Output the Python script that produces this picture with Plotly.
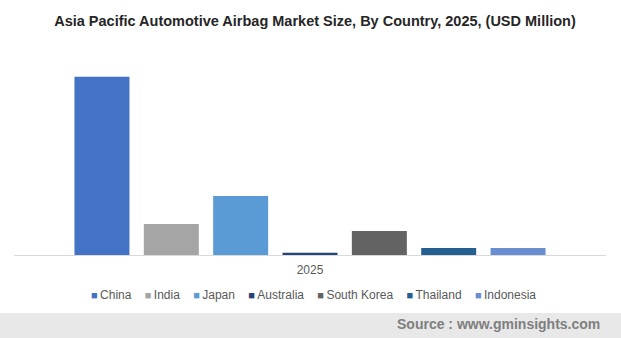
import plotly.graph_objects as go

years = ["2025"]
countries = ["China", "India", "Japan", "Australia", "South Korea", "Thailand", "Indonesia"]
values = [5350, 930, 1770, 70, 720, 210, 210]
colors = ["#4472C4", "#A5A5A5", "#5B9BD5", "#264478", "#636363", "#255E91", "#698ED0"]

title_text = "Asia Pacific Automotive Airbag Market Size, By Country, 2025, (USD Million)"
source_text = "Source : www.gminsights.com"

W, H = 621, 338
ml, mr, mt, mb = 14, 15, 55, 83
plot_h = H - mt - mb
plot_w = W - ml - mr

fig = go.Figure()
for name, v, c in zip(countries, values, colors):
    fig.add_trace(go.Bar(x=years, y=[v], name=name, marker=dict(color=c, line=dict(width=0)),
                         showlegend=False))

def py(pix_y):
    return (H - mb - pix_y) / plot_h

def px(pix_x):
    return (pix_x - ml) / plot_w

sep = "\u00a0" * 4
legend_text = sep.join(
    f'<span style="color:{c};font-size:11px">■</span>\u2009{n}' for n, c in zip(countries, colors)
)

fig.update_layout(
    width=W, height=H,
    margin=dict(l=ml, r=mr, t=mt, b=mb, pad=0),
    paper_bgcolor="white", plot_bgcolor="white",
    barmode="group", bargap=0.18, bargroupgap=0.207,
    title=dict(text=f"<b>{title_text}</b>", x=315 / W, xanchor="center",
               y=1 - 21 / H, yanchor="middle",
               font=dict(family="Liberation Sans, Arial, sans-serif", size=14.5, color="#262626")),
    xaxis=dict(type="category", showline=True, linecolor="#D9D9D9", linewidth=1,
               showgrid=False, zeroline=False, ticks="", ticklabelstandoff=4,
               tickfont=dict(family="Liberation Sans, Arial, sans-serif", size=12, color="#595959")),
    yaxis=dict(range=[0, 6000], visible=False, showgrid=False, zeroline=False),
    shapes=[dict(type="rect", xref="paper", yref="paper",
                 x0=px(0), x1=px(W), y0=py(313), y1=py(H + 2),
                 fillcolor="#E8E8E8", line=dict(width=0), layer="below")],
    annotations=[
        dict(text=legend_text, xref="paper", yref="paper", x=px(313), y=py(295),
             xanchor="center", yanchor="middle", showarrow=False,
             font=dict(family="Liberation Sans, Arial, sans-serif", size=12, color="#595959")),
        dict(text=f"<b>{source_text}</b>", xref="paper", yref="paper", x=px(602), y=py(323.5),
             xanchor="right", yanchor="middle", showarrow=False,
             font=dict(family="Liberation Sans, Arial, sans-serif", size=14, color="#7F7F7F")),
    ],
)

fig.write_html("out.html")
